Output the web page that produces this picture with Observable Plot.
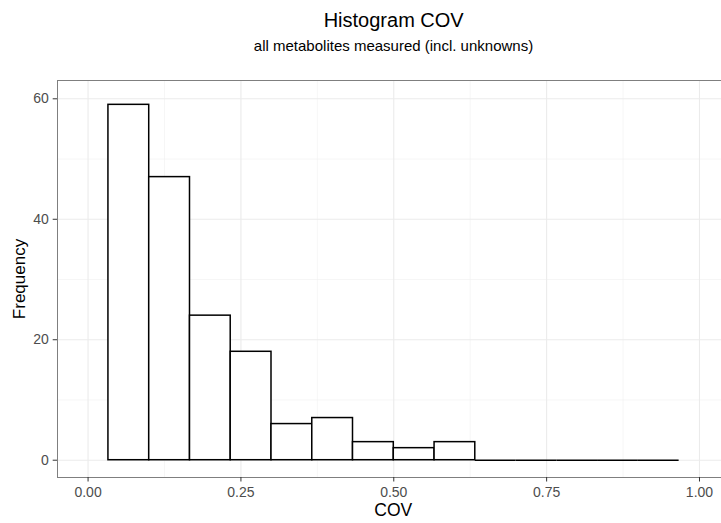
<!DOCTYPE html>
<html><head><meta charset="utf-8">
<script src="https://cdn.jsdelivr.net/npm/d3@7"></script>
<script src="https://cdn.jsdelivr.net/npm/@observablehq/plot@0.6"></script>
<style>body{margin:0;background:#fff;} #chart{width:721px;height:523px;overflow:hidden}</style>
</head><body><div id="chart"></div>
<script>
const binEdges = [0.0333, 0.1, 0.1667, 0.2333, 0.3, 0.3667, 0.4333, 0.5, 0.5667, 0.6333, 0.7, 0.7667, 0.8333, 0.9, 0.9667];
const counts = [59, 47, 24, 18, 6, 7, 3, 2, 3, 0, 0, 0, 0, 0];
const xTicks = [0, 0.25, 0.5, 0.75, 1];
const xMinor = [0.125, 0.375, 0.625, 0.875];
const yTicks = [0, 20, 40, 60];
const yMinor = [10, 30, 50];
const titleText = "Histogram COV";
const subtitleText = "all metabolites measured (incl. unknowns)";
const xLabel = "COV";
const yLabel = "Frequency";

const bins = counts.map((c, i) => ({x1: binEdges[i], x2: binEdges[i + 1], count: c}));
const emptyBins = bins.filter(d => d.count === 0);
const xDom = [-0.05, 1.036], yDom = [-2.87, 63.04];
const font = "'Liberation Sans', Arial, Helvetica, sans-serif";

const plot = Plot.plot({
  width: 721, height: 523,
  marginTop: 80, marginBottom: 46, marginLeft: 57, marginRight: 0,
  style: {fontFamily: font, background: "#fff", overflow: "visible"},
  x: {domain: xDom},
  y: {domain: yDom},
  marks: [
    Plot.ruleX(xMinor, {stroke: "#f0f0f0", strokeWidth: 0.6}),
    Plot.ruleY(yMinor, {stroke: "#f0f0f0", strokeWidth: 0.6}),
    Plot.ruleX(xTicks, {stroke: "#ebebeb", strokeWidth: 1.1}),
    Plot.ruleY(yTicks, {stroke: "#ebebeb", strokeWidth: 1.1}),
    Plot.rect(bins, {x1: "x1", x2: "x2", y1: 0, y2: "count", fill: "white", stroke: "black", strokeWidth: 1.5}),
    Plot.ruleY(emptyBins, {x1: "x1", x2: "x2", y: "count", stroke: "black", strokeWidth: 1.5}),
    Plot.ruleX([xDom[0]], {stroke: "#7f7f7f", strokeWidth: 1}),
    Plot.ruleY(yDom, {stroke: "#7f7f7f", strokeWidth: 1}),
    Plot.axisX({ticks: xTicks, tickFormat: d3.format(".2f"), tickSize: 4.5, tickPadding: 5, fontSize: 14, label: null, stroke: "#333", fill: "#4d4d4d"}),
    Plot.axisY({ticks: yTicks, tickFormat: d3.format("d"), tickSize: 4.3, tickPadding: 4.4, fontSize: 14, label: null, stroke: "#333", fill: "#4d4d4d"})
  ]
});

const svg = d3.select(plot);
svg.append("text").attr("x", 393.7).attr("y", 26.5).attr("text-anchor", "middle")
  .attr("font-size", 20).attr("fill", "#000").attr("font-family", font).text(titleText);
svg.append("text").attr("x", 393.5).attr("y", 51).attr("text-anchor", "middle")
  .attr("font-size", 15).attr("fill", "#000").attr("font-family", font).text(subtitleText);
svg.append("text").attr("x", 393.3).attr("y", 516).attr("text-anchor", "middle")
  .attr("font-size", 17.5).attr("fill", "#000").attr("font-family", font).text(xLabel);
svg.append("text").attr("transform", "translate(25,279) rotate(-90)").attr("text-anchor", "middle")
  .attr("font-size", 17).attr("fill", "#000").attr("font-family", font).text(yLabel);

document.getElementById("chart").appendChild(plot);
</script>
</body></html>
